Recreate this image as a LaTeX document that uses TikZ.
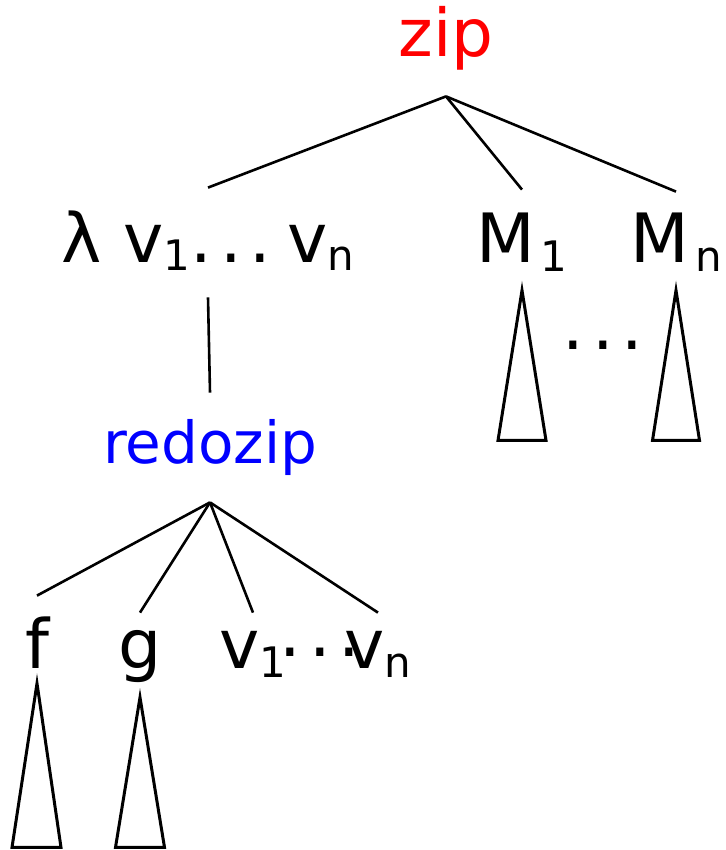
\documentclass[tikz,border=0pt]{standalone}
\usepackage{fontspec}
\setmainfont{DejaVu Sans}
\usepackage{xcolor}
\usepackage{tikz}
\usetikzlibrary{positioning, calc}
\newcommand\lowidx[1]{\raisebox{-4.5pt}{\fontsize{21}{24}\selectfont #1}}
\newcommand\dotrow{.\hspace{4pt}.\hspace{4pt}.}

\begin{document}
\begin{tikzpicture}[x=0.5pt, y=-0.5pt,
          lbl/.style={inner sep=0pt, anchor=base,
                      font=\fontsize{34}{40}\selectfont},
          head/.style={inner sep=0pt, anchor=base},
          edge/.style={line width=1.3pt},
          subtree/.style={line width=1.5pt}
        ]
        \useasboundingbox (0,0) rectangle (725,850);

        % Heads
        \node[head, red, font=\fontsize{33}{40}\selectfont,
              text depth=19.5pt] (zip) at (446,57) {zip};
        \node[head, blue, font=\fontsize{29}{34}\selectfont,
              text height=35pt, text depth=19.5pt] (redo) at (210,463) {redozip};

        % Top row
        \node[lbl, text height=37pt, text depth=17.5pt] (lam) at (208,262)
              {λ v\lowidx{1}\dotrow\hspace{8pt}v\lowidx{n}};
        \node[lbl, text height=36.5pt, text depth=13.5pt] (m1) at (522,263)
              {M\hspace{2.5pt}\lowidx{1}};
        \node[lbl, text height=35.5pt, text depth=13.5pt] (mn) at (676,263)
              {M\hspace{3pt}\lowidx{n}};
        \node[lbl] (mdots) at (603,349) {\dotrow};

        % Bottom row
        \node[lbl, text height=36pt, text depth=7.5pt] (f) at (37,668) {f};
        \node[lbl, text height=27.5pt, text depth=14.5pt] (g) at (140,668) {g};
        \node[lbl, text height=27.5pt] (va) at (253,668) {v\lowidx{1}};
        \node[lbl, text height=27.5pt] (vb) at (378,668) {v\lowidx{n}};
        \node[lbl] (bdots) at (320,656) {\dotrow};

        % Edges
        \draw[edge] (zip.south) -- (lam.north);
        \draw[edge] (zip.south) -- (m1.north);
        \draw[edge] (zip.south) -- (mn.north);
        \draw[edge] (lam.south) -- (redo.north);
        \draw[edge] (redo.south) -- (f.north);
        \draw[edge] (redo.south) -- (g.north);
        \draw[edge] (redo.south) -- (va.north);
        \draw[edge] (redo.south) -- (vb.north);

        % Subtrees
        \draw[subtree] (m1.south) -- ++(-24,150) -- ++(48,0) -- cycle;
        \draw[subtree] (mn.south) -- ++(-23.5,150) -- ++(47,0) -- cycle;
        \draw[subtree] (f.south) -- ++(-25,164) -- ++(49,0) -- cycle;
        \draw[subtree] (g.south) -- ++(-24.5,150) -- ++(49,0) -- cycle;
      \end{tikzpicture}
\end{document}
